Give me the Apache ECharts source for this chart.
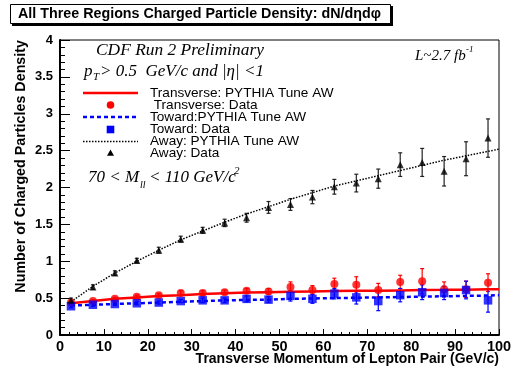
<!DOCTYPE html>
<html><head><meta charset="utf-8">
<script src="https://cdn.jsdelivr.net/npm/echarts@6/dist/echarts.min.js"></script>
<style>html,body{margin:0;padding:0;background:#fff}#c{width:511px;height:369px}</style>
</head><body><div id="c"></div>
<script>
// ---- data ----
const ptBins = [2.5,7.5,12.5,17.5,22.5,27.5,32.5,37.5,42.5,47.5,52.5,57.5,62.5,67.5,72.5,77.5,82.5,87.5,92.5,97.5];
const transData = [0.44,0.46,0.49,0.52,0.54,0.57,0.57,0.58,0.60,0.59,0.65,0.61,0.69,0.68,0.61,0.72,0.73,0.62,0.62,0.71];
const transErr  = [0.02,0.02,0.02,0.02,0.02,0.03,0.03,0.03,0.03,0.04,0.07,0.06,0.08,0.11,0.09,0.09,0.17,0.10,0.11,0.12];
const towardData = [0.39,0.41,0.42,0.43,0.44,0.46,0.47,0.47,0.49,0.48,0.53,0.49,0.56,0.51,0.46,0.54,0.58,0.57,0.61,0.47];
const towardErr  = [0.02,0.02,0.02,0.02,0.02,0.02,0.03,0.03,0.04,0.04,0.07,0.06,0.07,0.09,0.13,0.09,0.10,0.09,0.12,0.16];
const awayData = [0.47,0.65,0.84,1.01,1.15,1.30,1.42,1.52,1.59,1.73,1.77,1.87,2.01,2.06,2.12,2.31,2.34,2.22,2.39,2.67];
const awayErr  = [0.03,0.03,0.03,0.03,0.04,0.04,0.04,0.05,0.06,0.08,0.08,0.09,0.10,0.12,0.13,0.16,0.19,0.20,0.23,0.26];
const modelX = [2.5,7.5,12.5,17.5,22.5,27.5,32.5,37.5,42.5,47.5,52.5,57.5,62.5,67.5,72.5,77.5,82.5,87.5,92.5,97.5,100];
const transModel  = [0.43,0.46,0.49,0.51,0.53,0.54,0.555,0.565,0.575,0.58,0.585,0.59,0.595,0.60,0.60,0.605,0.61,0.612,0.615,0.62,0.62];
const towardModel = [0.40,0.41,0.42,0.43,0.44,0.45,0.46,0.47,0.475,0.48,0.49,0.495,0.50,0.505,0.51,0.515,0.52,0.525,0.53,0.535,0.54];
const awayModel   = [0.45,0.66,0.84,1.00,1.15,1.29,1.41,1.53,1.64,1.74,1.84,1.93,2.02,2.09,2.16,2.23,2.30,2.37,2.43,2.49,2.52];
const names = ['Transverse: PYTHIA Tune AW',' Transverse: Data','Toward:PYTHIA Tune AW','Toward: Data','Away: PYTHIA Tune AW','Away: Data'];
const xTicks = {min:0, max:100, interval:10};
const yTicks = {min:0, max:4, interval:0.5};

const SANS = '"Liberation Sans", Arial, sans-serif';
const SERIF = '"Liberation Serif", "Times New Roman", serif';
const RED = '#ff0000', BLUE = '#0000ff', BLACK = '#000000';

function pairs(xs, ys){ return xs.map((x,i)=>[x, ys[i]]); }
function errs(xs, ys, es){ return xs.map((x,i)=>[x, ys[i]-es[i], ys[i]+es[i]]); }
function errSeries(data, color){
  return {
    type:'custom', data, silent:true, z:3,
    encode:{x:0, y:[1,2]},
    renderItem(params, api){
      const x = api.value(0);
      const p1 = api.coord([x, api.value(1)]);
      const p2 = api.coord([x, api.value(2)]);
      const st = {stroke:color, lineWidth:1.2};
      return {type:'group', children:[
        {type:'line', shape:{x1:p1[0],y1:p1[1],x2:p2[0],y2:p2[1]}, style:st},
        {type:'line', shape:{x1:p1[0]-2,y1:p1[1],x2:p1[0]+2,y2:p1[1]}, style:st},
        {type:'line', shape:{x1:p2[0]-2,y1:p2[1],x2:p2[0]+2,y2:p2[1]}, style:st}
      ]};
    }
  };
}

// legend (drawn as graphic elements)
const legRows = [93, 105, 117, 129.5, 141.5, 153];
const legX0 = 83, legX1 = 138, legXc = 110.5, legTx = 150;
function legendGraphics(){
  const g = [];
  g.push({type:'line', shape:{x1:legX0,y1:legRows[0],x2:legX1,y2:legRows[0]}, style:{stroke:RED, lineWidth:2.5}});
  g.push({type:'circle', shape:{cx:legXc, cy:legRows[1], r:3.8}, style:{fill:RED}});
  g.push({type:'line', shape:{x1:legX0,y1:legRows[2],x2:legX1,y2:legRows[2]}, style:{stroke:BLUE, lineWidth:2.5, lineDash:[4,3]}});
  g.push({type:'rect', shape:{x:legXc-3.8, y:legRows[3]-3.8, width:7.6, height:7.6}, style:{fill:BLUE}});
  g.push({type:'line', shape:{x1:legX0,y1:legRows[4],x2:legX1,y2:legRows[4]}, style:{stroke:BLACK, lineWidth:1.5, lineDash:[1.5,1.5]}});
  g.push({type:'polygon', shape:{points:[[legXc,legRows[5]-3.5],[legXc+3.5,legRows[5]+2.8],[legXc-3.5,legRows[5]+2.8]]}, style:{fill:BLACK}});
  names.forEach((n,i)=>{
    g.push({type:'text', x:legTx, y:legRows[i], style:{text:n, font:'13.6px '+SANS, fill:'#000', verticalAlign:'middle'}});
  });
  return g;
}

const chart = echarts.init(document.getElementById('c'), null, {renderer:'canvas'});
chart.setOption({
  animation:false,
  backgroundColor:'#fff',
  grid:{left:60, right:12, top:40, bottom:34, show:true, borderColor:'#000', borderWidth:1, outerBoundsMode:'none'},
  xAxis:[{
    type:'value', min:xTicks.min, max:xTicks.max, interval:xTicks.interval,
    axisLine:{show:true, onZero:false, lineStyle:{color:'#000', width:2}},
    axisTick:{show:true, inside:true, length:6, lineStyle:{color:'#000'}},
    minorTick:{show:true, splitNumber:5, length:3, lineStyle:{color:'#000'}},
    splitLine:{show:false},
    axisLabel:{color:'#000', fontFamily:SANS, fontWeight:'bold', fontSize:14.5, margin:4}
  }],
  yAxis:[{
    type:'value', min:yTicks.min, max:yTicks.max, interval:yTicks.interval,
    axisLine:{show:true, onZero:false, lineStyle:{color:'#000', width:1}},
    axisTick:{show:true, inside:true, length:10, lineStyle:{color:'#000'}},
    minorTick:{show:true, splitNumber:5, length:5, lineStyle:{color:'#000'}},
    splitLine:{show:false},
    axisLabel:{color:'#000', fontFamily:SANS, fontWeight:'bold', fontSize:13, margin:7}
  },{
    type:'value', position:'right', min:yTicks.min, max:yTicks.max, interval:yTicks.interval,
    axisLine:{show:true, lineStyle:{color:'#000', width:2}},
    axisTick:{show:false}, axisLabel:{show:false}, splitLine:{show:false}
  }],
  series:[
    {name:names[0], type:'line', data:pairs(modelX, transModel), symbol:'none', z:4,
     lineStyle:{color:RED, width:2.5}, itemStyle:{color:RED}},
    errSeries(errs(ptBins, transData, transErr), RED),
    {name:names[1], type:'scatter', data:pairs(ptBins, transData), symbol:'circle', symbolSize:8, z:5,
     itemStyle:{color:RED}},
    {name:names[2], type:'line', data:pairs(modelX, towardModel), symbol:'none', z:4,
     lineStyle:{color:BLUE, width:2.5, type:[4,3]}, itemStyle:{color:BLUE}},
    errSeries(errs(ptBins, towardData, towardErr), BLUE),
    {name:names[3], type:'scatter', data:pairs(ptBins, towardData), symbol:'rect', symbolSize:8.5, z:5,
     itemStyle:{color:BLUE}},
    {name:names[4], type:'line', data:pairs(modelX, awayModel), symbol:'none', z:4,
     lineStyle:{color:BLACK, width:1.5, type:[1.5,1.5]}, itemStyle:{color:BLACK}},
    errSeries(errs(ptBins, awayData, awayErr), '#222'),
    {name:names[5], type:'scatter', data:pairs(ptBins, awayData), symbol:'triangle', symbolSize:7, z:5,
     itemStyle:{color:BLACK}}
  ],
  graphic:[
    {type:'rect', shape:{x:12, y:6, width:381, height:20}, style:{fill:'#000'}, z:1},
    {type:'rect', shape:{x:10.5, y:4.5, width:380, height:19}, style:{fill:'#fff', stroke:'#000', lineWidth:1}, z:2},
    {type:'text', x:18, y:14.5, z:3, style:{text:'All Three Regions Charged Particle Density: dN/dηdφ', font:'bold 14.3px '+SANS, fill:'#000', verticalAlign:'middle'}},
    {type:'text', x:96, y:50, style:{text:'CDF Run 2 Preliminary', font:'italic 17.4px '+SERIF, fill:'#000', verticalAlign:'middle'}},
    {type:'text', x:84, y:72, style:{text:'p', font:'italic 17px '+SERIF, fill:'#000', verticalAlign:'middle'}},
    {type:'text', x:93, y:77, style:{text:'T', font:'italic 11px '+SERIF, fill:'#000', verticalAlign:'middle'}},
    {type:'text', x:100, y:72, style:{text:'> 0.5  GeV/c and |η| <1', font:'italic 17px '+SERIF, fill:'#000', verticalAlign:'middle'}},
    {type:'text', x:88, y:178, style:{text:'70 < M', font:'italic 17px '+SERIF, fill:'#000', verticalAlign:'middle'}},
    {type:'text', x:140, y:185, style:{text:'ll', font:'italic 10px '+SERIF, fill:'#000', verticalAlign:'middle'}},
    {type:'text', x:149, y:178, style:{text:'< 110 GeV/c', font:'italic 17px '+SERIF, fill:'#000', verticalAlign:'middle'}},
    {type:'text', x:234, y:171, style:{text:'2', font:'italic 11px '+SERIF, fill:'#000', verticalAlign:'middle'}},
    {type:'text', x:415, y:56, style:{text:'L~2.7 fb', font:'italic 15px '+SERIF, fill:'#000', verticalAlign:'middle'}},
    {type:'text', x:466, y:50, style:{text:'-1', font:'italic 9px '+SERIF, fill:'#000', verticalAlign:'middle'}},
    {type:'text', x:499, y:359, style:{text:'Transverse Momentum of Lepton Pair (GeV/c)', font:'bold 14px '+SANS, fill:'#000', align:'right', verticalAlign:'middle'}},
    {type:'text', x:21, y:40, rotation:Math.PI/2, style:{text:'Number of Charged Particles Density', font:'bold 14.3px '+SANS, fill:'#000', align:'right', verticalAlign:'middle'}}
  ].concat(legendGraphics())
});
</script></body></html>
